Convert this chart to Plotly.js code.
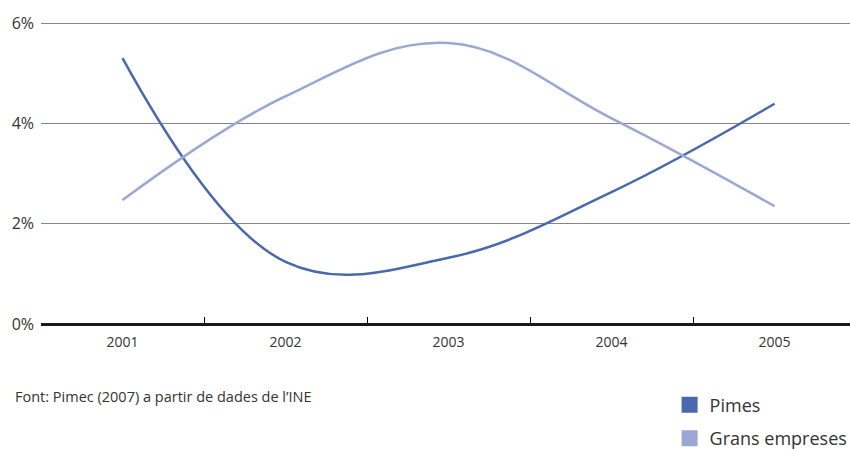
<!DOCTYPE html>
<html>
<head>
<meta charset="utf-8">
<script src="https://cdn.plot.ly/plotly-3.0.1.min.js"></script>
<style>html,body{margin:0;padding:0;background:#fff;}#chart{width:850px;height:449px;}</style>
</head>
<body>
<div id="chart"></div>
<script>
const years = ['2001', '2002', '2003', '2004', '2005'];
const pimes = [5.3, 1.24, 1.32, 2.63, 4.39];
const grans = [2.47, 4.54, 5.6, 4.1, 2.35];
const yTicks = [0, 2, 4, 6];
const seriesNames = ['Pimes', 'Grans empreses'];
const colors = ['#4a68ad', '#9aa8d3'];
const sourceNote = "Font: Pimec (2007) a partir de dades de l\u2019INE";

const font = "'Open Sans', 'Noto Sans', sans-serif";
const data = [
  {x: years, y: pimes, type: 'scatter', mode: 'lines', name: seriesNames[0], showlegend: false,
   line: {color: colors[0], width: 2.5, shape: 'spline', smoothing: 1.1}},
  {x: years, y: grans, type: 'scatter', mode: 'lines', name: seriesNames[1], showlegend: false,
   line: {color: colors[1], width: 2.5, shape: 'spline', smoothing: 1.1}},
  {x: [null], y: [null], type: 'scatter', mode: 'markers', name: seriesNames[0], legendgroup: 'a',
   marker: {symbol: 'square', size: 18, color: colors[0]}},
  {x: [null], y: [null], type: 'scatter', mode: 'markers', name: seriesNames[1], legendgroup: 'b',
   marker: {symbol: 'square', size: 18, color: colors[1]}}
];
const layout = {
  width: 850, height: 449,
  margin: {l: 41, r: 0, t: 20, b: 125, autoexpand: false},
  paper_bgcolor: '#fff', plot_bgcolor: '#fff',
  font: {family: font, size: 13, color: '#333'},
  showlegend: true,
  legend: {x: 0.777, xanchor: 'left', y: -0.206, yanchor: 'top', font: {size: 18, color: '#333'},
           itemsizing: 'trace', traceorder: 'grouped', tracegroupgap: 7, bgcolor: 'rgba(0,0,0,0)'},
  xaxis: {type: 'category', range: [-0.5, 4.463], tickson: 'boundaries', ticks: 'inside', ticklen: 7,
          tickcolor: '#000', tickwidth: 1, showgrid: false, showline: false, zeroline: false,
          ticklabelstandoff: 8, tickfont: {size: 14, color: '#333'}, fixedrange: true},
  yaxis: {range: [0, 6.06], tickvals: yTicks, ticktext: yTicks.map(v => v + '%'), showgrid: true,
          gridcolor: '#858585', gridwidth: 1, zeroline: true, zerolinecolor: '#1a1a1a', zerolinewidth: 3,
          showline: false, ticks: '', ticklabelstandoff: 6, tickfont: {size: 16, color: '#333'}, fixedrange: true},
  annotations: [{text: sourceNote, xref: 'paper', yref: 'paper', x: 0, xanchor: 'left',
                 y: -0.237, yanchor: 'middle', showarrow: false, font: {size: 14.5, color: '#333'},
                 xshift: -28}]
};
Plotly.newPlot('chart', data, layout, {displayModeBar: false, staticPlot: true});
</script>
</body>
</html>
